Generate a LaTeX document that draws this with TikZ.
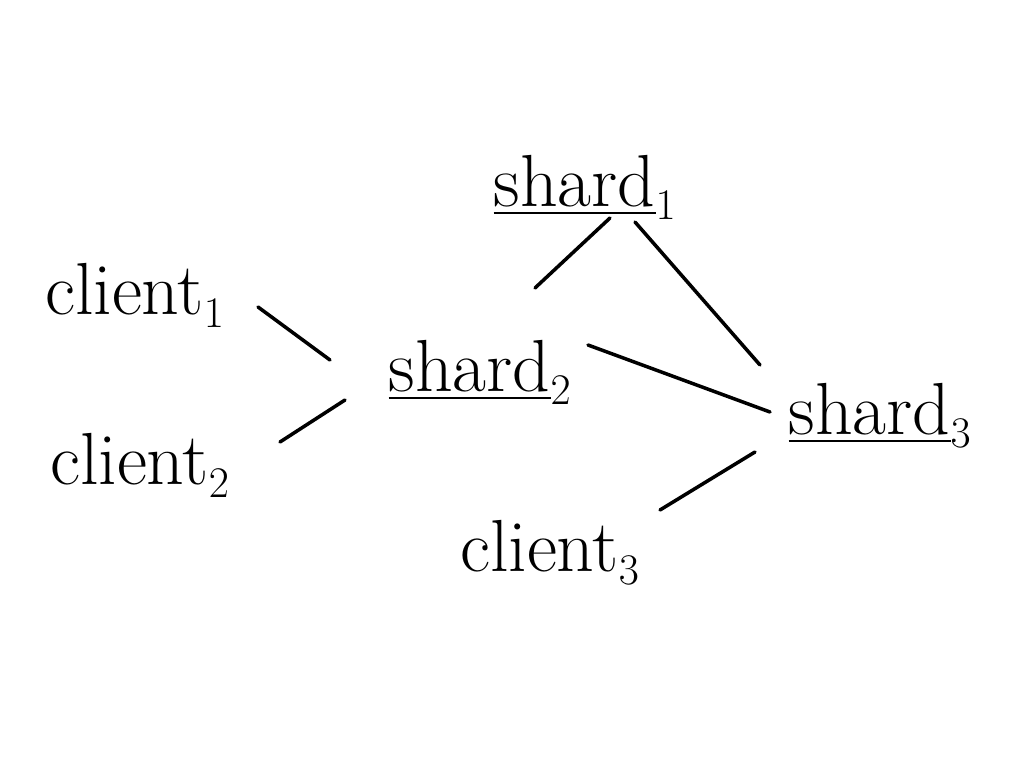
\documentclass[tikz,border=0pt]{standalone}
\usepackage{amsmath}
\usetikzlibrary{calc}
\begin{document}
\begin{tikzpicture}[every node/.style={font=\fontsize{42}{48}\selectfont, inner sep=2pt},
    link/.style={line width=2pt, line cap=round}]
  \useasboundingbox (0,0) rectangle (20.48,-15.36);
  % shards
  \node (shardA) at (11.7,-3.75) {$\underline{\mbox{shard}}_{1}$};
  \node (shardB) at (9.6,-7.45) {$\underline{\mbox{shard}}_{2}$};
  \node (shardC) at (17.6,-8.3) {$\underline{\mbox{shard}}_{3}$};
  % clients
  \node (clientA) at (2.7,-5.9) {client$_{1}$};
  \node (clientB) at (2.8,-9.3) {client$_{2}$};
  \node (clientC) at (11.0,-11.05) {client$_{3}$};
  % links
  \draw[link] ($(shardA)+(0.5,-0.61)$) -- ($(shardB)+(1.1,1.69)$);
  \draw[link] ($(shardA)+(1.0,-0.69)$) -- ($(shardC)+(-2.4,1.0)$);
  \draw[link] ($(shardB)+(2.16,0.55)$) -- ($(shardC)+(-2.2,0.06)$);
  \draw[link] ($(clientA)+(2.46,-0.24)$) -- ($(shardB)+(-3.0,0.25)$);
  \draw[link] ($(clientB)+(2.8,0.46)$) -- ($(shardB)+(-2.7,-0.55)$);
  \draw[link] ($(clientC)+(2.2,0.85)$) -- ($(shardC)+(-2.5,-0.74)$);
\end{tikzpicture}
\end{document}
